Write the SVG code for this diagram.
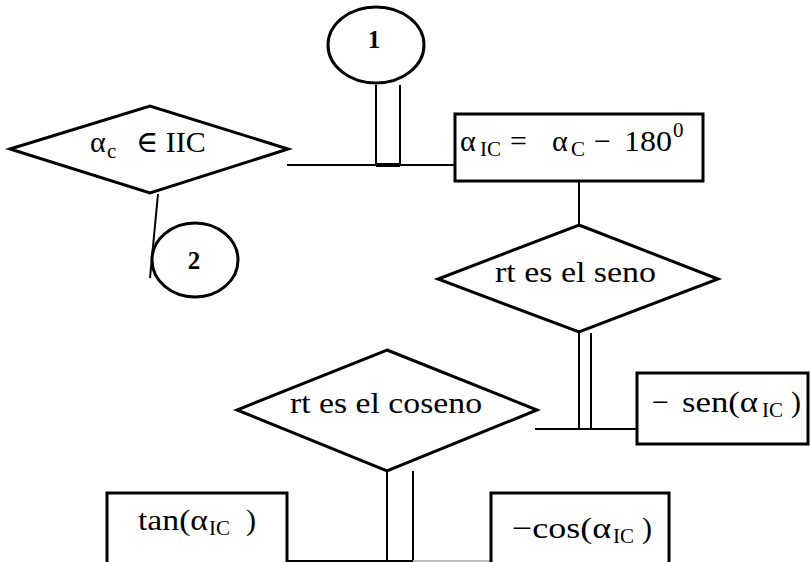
<svg xmlns="http://www.w3.org/2000/svg" width="810" height="562" viewBox="0 0 810 562">
  <style>
    .shape { fill: #fff; stroke: #000; stroke-width: 3; }
    .wire { fill: none; stroke: #000; stroke-width: 2; }
    .lbl { font-family: "Liberation Serif", "DejaVu Serif", serif; font-size: 30px; fill: #000; }
    .sub { font-size: 21px; }
    .num { font-family: "Liberation Serif", "DejaVu Serif", serif; font-size: 25px; font-weight: bold; fill: #000; text-anchor: middle; }
  </style>
  <rect width="810" height="562" fill="#fff"/>

  <g id="connectors">
    <!-- connector 1 down to the junction line -->
    <line class="wire" x1="376" y1="85" x2="376" y2="165"/>
    <line class="wire" x1="400" y1="85" x2="400" y2="165"/>
    <line class="wire" x1="287" y1="165" x2="455" y2="165"/>
    <line x1="376" y1="165" x2="400" y2="165" stroke="#000" stroke-width="4"/>
    <!-- decision 1 to connector 2 -->
    <line class="wire" x1="158" y1="194" x2="150" y2="278"/>
    <!-- assignment box to first decision -->
    <line class="wire" x1="579" y1="181" x2="579" y2="225"/>
    <!-- first decision down to the sine branch -->
    <line class="wire" x1="579" y1="333" x2="579" y2="429"/>
    <line class="wire" x1="591" y1="333" x2="591" y2="429"/>
    <line class="wire" x1="535" y1="429" x2="637" y2="429"/>
    <!-- second decision down to the bottom branch -->
    <line class="wire" x1="387" y1="471" x2="387" y2="562"/>
    <line class="wire" x1="413" y1="471" x2="413" y2="562"/>
    <line class="wire" x1="287" y1="561" x2="413" y2="561"/>
    <line x1="413" y1="561" x2="491" y2="561" stroke="#bbb" stroke-width="2"/>
  </g>

  <g id="c1">
    <ellipse class="shape" cx="376" cy="45" rx="48" ry="38"/>
    <text class="num" x="374" y="48">1</text>
  </g>

  <g id="d1">
    <polygon class="shape" points="10,149 150,106 288,149 150,193"/>
    <text class="lbl" y="152"><tspan x="90">α</tspan><tspan class="sub" x="107" dy="6">c</tspan><tspan x="136" dy="-6">∈ IIC</tspan></text>
  </g>

  <g id="c2">
    <ellipse class="shape" cx="195" cy="260" rx="43" ry="37"/>
    <text class="num" x="194" y="269">2</text>
  </g>

  <g id="b1">
    <rect class="shape" x="455" y="114" width="248" height="67"/>
    <text class="lbl" y="151"><tspan x="460">α</tspan><tspan class="sub" x="480" dy="5">IC</tspan><tspan x="510" dy="-5">=</tspan><tspan x="552">α</tspan><tspan class="sub" x="571" dy="5">C</tspan><tspan x="594" dy="-5">−</tspan><tspan x="624" textLength="48" lengthAdjust="spacingAndGlyphs">180</tspan><tspan class="sub" x="673" dy="-14">0</tspan></text>
  </g>

  <g id="d2">
    <polygon class="shape" points="579,225 718,279 579,332 438,279"/>
    <text class="lbl" x="495" y="282" textLength="161" lengthAdjust="spacingAndGlyphs">rt es el seno</text>
  </g>

  <g id="b2">
    <rect class="shape" x="637" y="373" width="171" height="71"/>
    <text class="lbl" y="412"><tspan x="652">−</tspan><tspan x="682" textLength="76" lengthAdjust="spacingAndGlyphs">sen(α</tspan><tspan class="sub" x="762" dy="5">IC</tspan><tspan x="791" dy="-5">)</tspan></text>
  </g>

  <g id="d3">
    <polygon class="shape" points="387,350 537,410 387,471 237,410"/>
    <text class="lbl" x="290" y="413" textLength="192" lengthAdjust="spacingAndGlyphs">rt es el coseno</text>
  </g>

  <g id="b3">
    <rect class="shape" x="107" y="493" width="180" height="80"/>
    <text class="lbl" y="530"><tspan x="138" textLength="70" lengthAdjust="spacingAndGlyphs">tan(α</tspan><tspan class="sub" x="209" dy="5">IC</tspan><tspan x="246" dy="-5">)</tspan></text>
  </g>

  <g id="b4">
    <rect class="shape" x="491" y="493" width="178" height="80"/>
    <text class="lbl" y="538"><tspan x="512" textLength="99" lengthAdjust="spacingAndGlyphs">−cos(α</tspan><tspan class="sub" x="613" dy="5">IC</tspan><tspan x="642" dy="-5">)</tspan></text>
  </g>
</svg>
